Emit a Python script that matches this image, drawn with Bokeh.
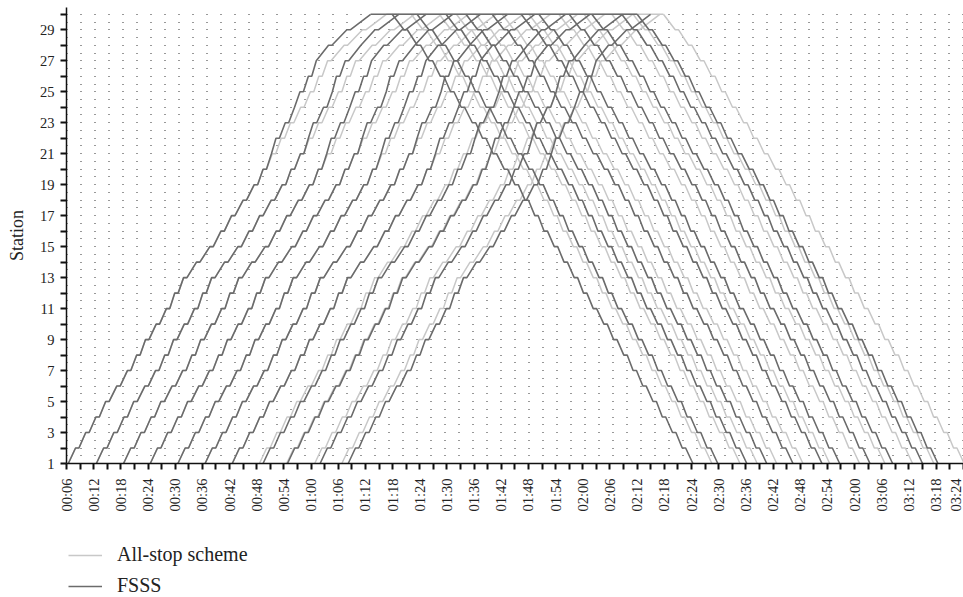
import numpy as np
from bokeh.plotting import figure
from bokeh.models import FixedTicker, Legend, LegendItem, Range1d
from bokeh.layouts import column
from bokeh.embed import file_html
from bokeh.resources import INLINE

# ---------------- data ----------------
stations = list(range(1, 31))

# section run times (min) between station s and s+1 (index s-1), all-stop
up_run = [1.6, 1.5, 1.5, 1.4, 1.7, 1.6, 1.3, 1.2, 1.6, 1.5,
          1.1, 1.2, 2.1, 2.2, 1.7, 1.6, 1.8, 1.7, 1.2, 1.3,
          1.2, 1.3, 1.5, 1.4, 1.1, 1.2, 2.9, 3.3, 4.5]
down_run = [1.6, 1.4, 1.5, 1.3, 1.5, 1.4, 1.3, 1.5, 1.4, 1.6,
            1.4, 1.3, 1.5, 1.4, 1.5, 1.3, 1.4, 1.5, 1.6, 1.7,
            1.6, 1.5, 1.7, 1.6, 1.5, 1.7, 1.9, 2.2, 2.6]
dwell_min = 0.75
skip_saving = 0.2

# departures (minutes after 00:00): up trips leave station 1, down trips leave station 30
up_dep_all = [6.4, 12.6, 18.6, 24.5, 30.6, 36.6, 42.6, 48.6, 54.6, 60.8, 66.8]
up_dep_fsss = [6.4, 12.6, 18.6, 24.5, 30.6, 36.6, 42.6, 49.4, 54.8, 62.0, 68.2]
down_dep_all = [82.1, 88.3, 92.1, 96.4, 102.2, 108.1, 114.7, 120.3, 126.4, 131.1, 137.8]
down_dep_fsss = [77.9, 83.4, 89.8, 94.2, 100.0, 106.4, 110.3, 117.0, 122.0, 128.6, 132.0]

# stations skipped (up direction) by the two FSSS train types
fsss_up_skip_a = [21, 24, 27]
fsss_up_skip_b = [22, 25, 28]

x_tick_values = [6, 12, 18, 24, 30, 36, 42, 48, 54, 60, 66, 72, 78, 84, 90, 96, 102,
                 108, 114, 120, 126, 132, 138, 144, 150, 156, 162, 168, 174, 180,
                 186, 192, 198, 204]
x_tick_labels = ["00:06", "00:12", "00:18", "00:24", "00:30", "00:36", "00:42", "00:48",
                 "00:54", "01:00", "01:06", "01:12", "01:18", "01:24", "01:30", "01:36",
                 "01:42", "01:48", "01:54", "02:00", "02:06", "02:12", "02:18", "02:24",
                 "02:30", "02:36", "02:42", "02:48", "02:54", "02:00", "03:06", "03:12",
                 "03:18", "03:24"]
x_minor_values = [9, 15, 21, 27, 33, 39, 45, 51, 57, 63, 69, 75, 81, 87, 93, 99, 105,
                  111, 117, 123, 129, 135, 141, 147, 153, 159, 165, 171, 177, 183,
                  189, 195, 201]
y_tick_values = [1, 3, 5, 7, 9, 11, 13, 15, 17, 19, 21, 23, 25, 27, 29]
y_minor_values = [2, 4, 6, 8, 10, 12, 14, 16, 18, 20, 22, 24, 26, 28, 30]
legend_labels = ["All-stop scheme", "FSSS"]


def run_path(start, seq, runs, skips):
    t = start
    xs, ys = [t], [seq[0]]
    for i in range(len(seq) - 1):
        a, b = seq[i], seq[i + 1]
        r = runs[i]
        if a in skips:
            r -= skip_saving
        if b in skips:
            r -= skip_saving
        t += r
        xs.append(t)
        ys.append(b)
        if i + 1 < len(seq) - 1 and b not in skips:
            t += dwell_min
            xs.append(t)
            ys.append(b)
    return xs, ys


def trips(up_deps, down_deps, fsss):
    all_x, all_y = [], []
    arrivals = []
    for k, ud in enumerate(up_deps):
        us = (fsss_up_skip_a if k % 2 == 0 else fsss_up_skip_b) if fsss else []
        ux, uy = run_path(ud, stations, up_run, us)
        arrivals.append(ux[-1])
        all_x.append(ux)
        all_y.append(uy)
    for dd in down_deps:
        dx, dy = run_path(dd, stations[::-1], down_run[::-1], [])
        all_x.append(dx)
        all_y.append(dy)
    # terminal occupancy at the last station
    all_x.append([min(arrivals), max(down_deps)])
    all_y.append([stations[-1], stations[-1]])
    return all_x, all_y


ax, ay = trips(up_dep_all, down_dep_all, False)
fx, fy = trips(up_dep_fsss, down_dep_fsss, True)

LIGHT = "#c8c8c8"
DARK = "#6b6b6b"
FONT = "Liberation Serif"

# ---------------- main figure ----------------
p = figure(width=963, height=528, output_backend="svg", toolbar_location=None,
           x_range=Range1d(6, 204.05), y_range=Range1d(1, 30.44),
           min_border_left=66, min_border_right=0, min_border_top=7,
           min_border_bottom=65)
p.outline_line_color = None
p.background_fill_color = "white"

p.xgrid.grid_line_color = None
p.ygrid.ticker = FixedTicker(ticks=[1 + 0.5 * i for i in range(60)])
p.ygrid.grid_line_color = "#333333"
p.ygrid.grid_line_dash = "1 13"
p.ygrid.grid_line_width = 1

p.multi_line(xs=ax, ys=ay, line_color=LIGHT, line_width=1.5)
p.multi_line(xs=fx, ys=fy, line_color=DARK, line_width=1.6)

for axis in (p.xaxis[0], p.yaxis[0]):
    axis.axis_line_color = "#111111"
    axis.axis_line_width = 1.5
    axis.major_tick_line_color = "#111111"
    axis.minor_tick_line_color = "#111111"
    axis.major_tick_line_width = 2
    axis.minor_tick_line_width = 2
    axis.major_tick_in = 0
    axis.major_tick_out = 6
    axis.minor_tick_in = 0
    axis.minor_tick_out = 6
    axis.major_label_text_font = FONT
    axis.major_label_text_font_size = "14.5px"
    axis.major_label_text_color = "#222222"

p.xaxis.ticker = FixedTicker(ticks=x_tick_values, minor_ticks=x_minor_values)
p.xaxis.major_label_overrides = {v: s for v, s in zip(x_tick_values, x_tick_labels)}
p.xaxis.major_label_orientation = 3.14159265 / 2
p.xaxis.major_label_standoff = 9

p.yaxis.ticker = FixedTicker(ticks=y_tick_values, minor_ticks=y_minor_values)
p.yaxis.major_label_standoff = 6
p.yaxis.axis_label = "Station"
p.yaxis.axis_label_text_font = FONT
p.yaxis.axis_label_text_font_style = "normal"
p.yaxis.axis_label_text_font_size = "18px"
p.yaxis.axis_label_text_color = "#222222"
p.yaxis.axis_label_standoff = 10

# ---------------- legend strip ----------------
q = figure(width=963, height=69, output_backend="svg", toolbar_location=None,
           x_range=Range1d(0, 1), y_range=Range1d(0, 1),
           min_border_left=66, min_border_right=0, min_border_top=0,
           min_border_bottom=0)
q.axis.visible = False
q.grid.grid_line_color = None
q.outline_line_color = None
nan_pt = np.array([np.nan])
r_light = q.line(x=nan_pt, y=nan_pt, line_color=LIGHT, line_width=1.5)
r_dark = q.line(x=nan_pt, y=nan_pt, line_color=DARK, line_width=1.6)
legend = Legend(items=[LegendItem(label=legend_labels[0], renderers=[r_light]),
                       LegendItem(label=legend_labels[1], renderers=[r_dark])],
                location=(2, 0), padding=0, margin=0, spacing=8,
                glyph_width=34, glyph_height=20, label_height=20,
                label_standoff=15, border_line_color=None,
                background_fill_alpha=0,
                label_text_font=FONT, label_text_font_size="20px",
                label_text_color="#222222")
q.add_layout(legend, "center")

layout = column(p, q, spacing=0)
open("out.html", "w").write(file_html(layout, INLINE))
